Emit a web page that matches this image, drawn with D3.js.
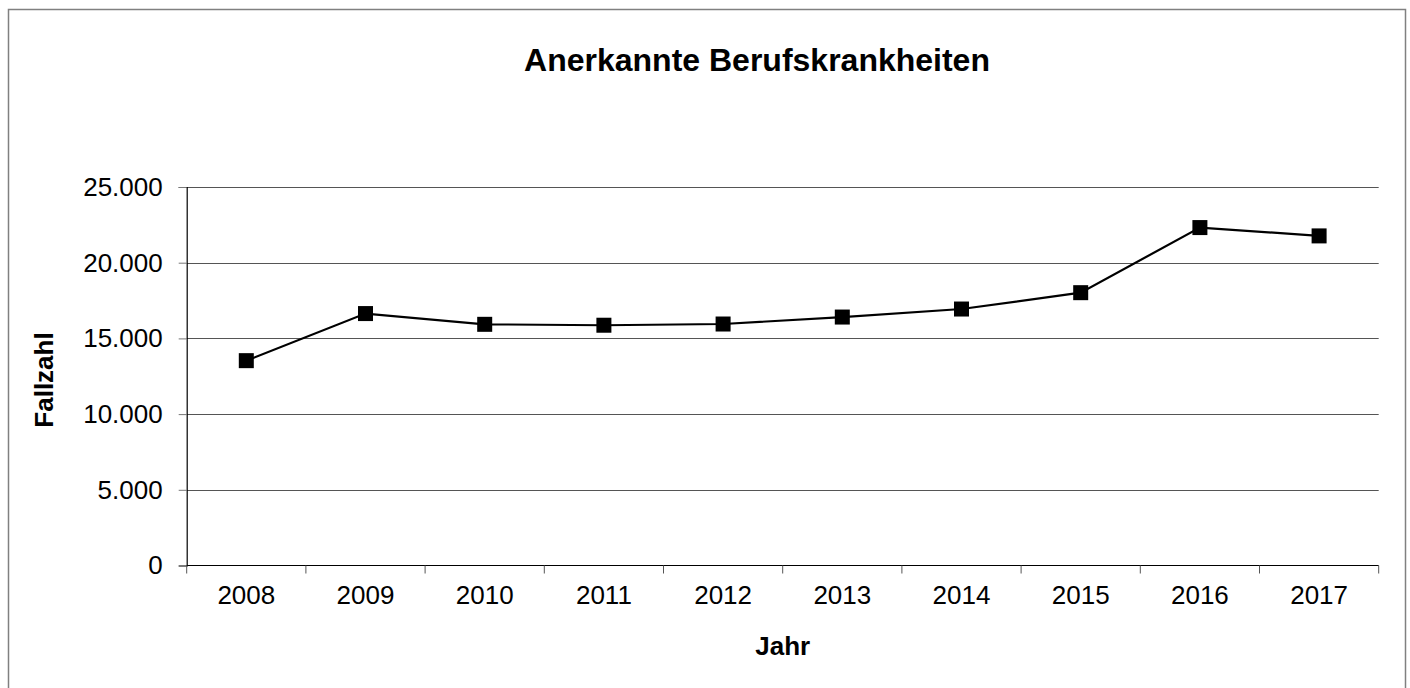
<!DOCTYPE html>
<html>
<head>
<meta charset="utf-8">
<script src="https://cdn.jsdelivr.net/npm/d3@7"></script>
<style>
  body { margin: 0; background: #fff; }
  text { font-family: "Liberation Sans", Arial, sans-serif; fill: #000; }
</style>
</head>
<body>
<div id="chart"></div>
<script>
// data
var years = ["2008", "2009", "2010", "2011", "2012", "2013", "2014", "2015", "2016", "2017"];
var cases = [13530, 16640, 15930, 15870, 15950, 16410, 16940, 18020, 22320, 21770];
var yTicks = [0, 5000, 10000, 15000, 20000, 25000];

var W = 1410, H = 688;
var margin = { top: 187, right: 31, bottom: 122.5, left: 186.7 },
    width = 1378.7 - margin.left,
    height = 565.5 - margin.top;

var svg = d3.select("#chart")
    .append("svg")
    .attr("width", W)
    .attr("height", H);

// outer frame
svg.append("rect")
    .attr("x", 8.5).attr("y", 9.5)
    .attr("width", 1397).attr("height", 700)
    .attr("fill", "none")
    .attr("stroke", "#808080")
    .attr("stroke-width", 1.5);

var g = svg.append("g")
    .attr("transform", "translate(" + margin.left + "," + margin.top + ")");

var x = d3.scaleBand()
    .domain(years)
    .range([0, width]);

var y = d3.scaleLinear()
    .domain([0, 25000])
    .range([height, 0]);

var fmt = function(v) { return d3.format(",")(v).replace(/,/g, "."); };

// gridlines
g.selectAll(".grid")
    .data(yTicks.filter(function(d) { return d > 0; }))
    .enter().append("line")
    .attr("x1", 0).attr("x2", width)
    .attr("y1", function(d) { return Math.round(y(d)) + 0.5; })
    .attr("y2", function(d) { return Math.round(y(d)) + 0.5; })
    .attr("stroke", "#555")
    .attr("stroke-width", 1);

// y axis
var yAxis = g.append("g")
    .call(d3.axisLeft(y).tickValues(yTicks).tickSize(8).tickPadding(16).tickFormat(fmt));
yAxis.select(".domain").attr("stroke", "#000").attr("stroke-width", 1.2);
yAxis.selectAll(".tick line").attr("stroke", "#777");
yAxis.selectAll("text").style("font-size", "26px");

// x axis
var xAxis = g.append("g")
    .attr("transform", "translate(0," + height + ")")
    .call(d3.axisBottom(x).tickSize(0).tickPadding(20));
xAxis.select(".domain").remove();
xAxis.selectAll("text").style("font-size", "26px");

g.append("line")
    .attr("x1", 0).attr("x2", width)
    .attr("y1", height).attr("y2", height)
    .attr("stroke", "#000").attr("stroke-width", 1.2);

// category boundary ticks
var bounds = years.map(function(d) { return x(d); }).concat([width]);
g.selectAll(".xtick")
    .data(bounds)
    .enter().append("line")
    .attr("x1", function(d) { return d; })
    .attr("x2", function(d) { return d; })
    .attr("y1", height).attr("y2", height + 8)
    .attr("stroke", "#555");

// line
var line = d3.line()
    .x(function(d, i) { return x(years[i]) + x.bandwidth() / 2; })
    .y(function(d) { return y(d); });

g.append("path")
    .datum(cases)
    .attr("d", line)
    .attr("fill", "none")
    .attr("stroke", "#000")
    .attr("stroke-width", 2.2);

// markers
var ms = 15;
g.selectAll(".marker")
    .data(cases)
    .enter().append("rect")
    .attr("x", function(d, i) { return x(years[i]) + x.bandwidth() / 2 - ms / 2; })
    .attr("y", function(d) { return y(d) - ms / 2; })
    .attr("width", ms).attr("height", ms)
    .attr("fill", "#000");

// title and axis labels
svg.append("text")
    .attr("x", 757).attr("y", 71)
    .attr("text-anchor", "middle")
    .style("font-size", "32px")
    .style("font-weight", "bold")
    .text("Anerkannte Berufskrankheiten");

svg.append("text")
    .attr("x", margin.left + width / 2).attr("y", 655)
    .attr("text-anchor", "middle")
    .style("font-size", "26px")
    .style("font-weight", "bold")
    .text("Jahr");

svg.append("text")
    .attr("transform", "translate(53,380) rotate(-90)")
    .attr("text-anchor", "middle")
    .style("font-size", "26px")
    .style("font-weight", "bold")
    .text("Fallzahl");
</script>
</body>
</html>
